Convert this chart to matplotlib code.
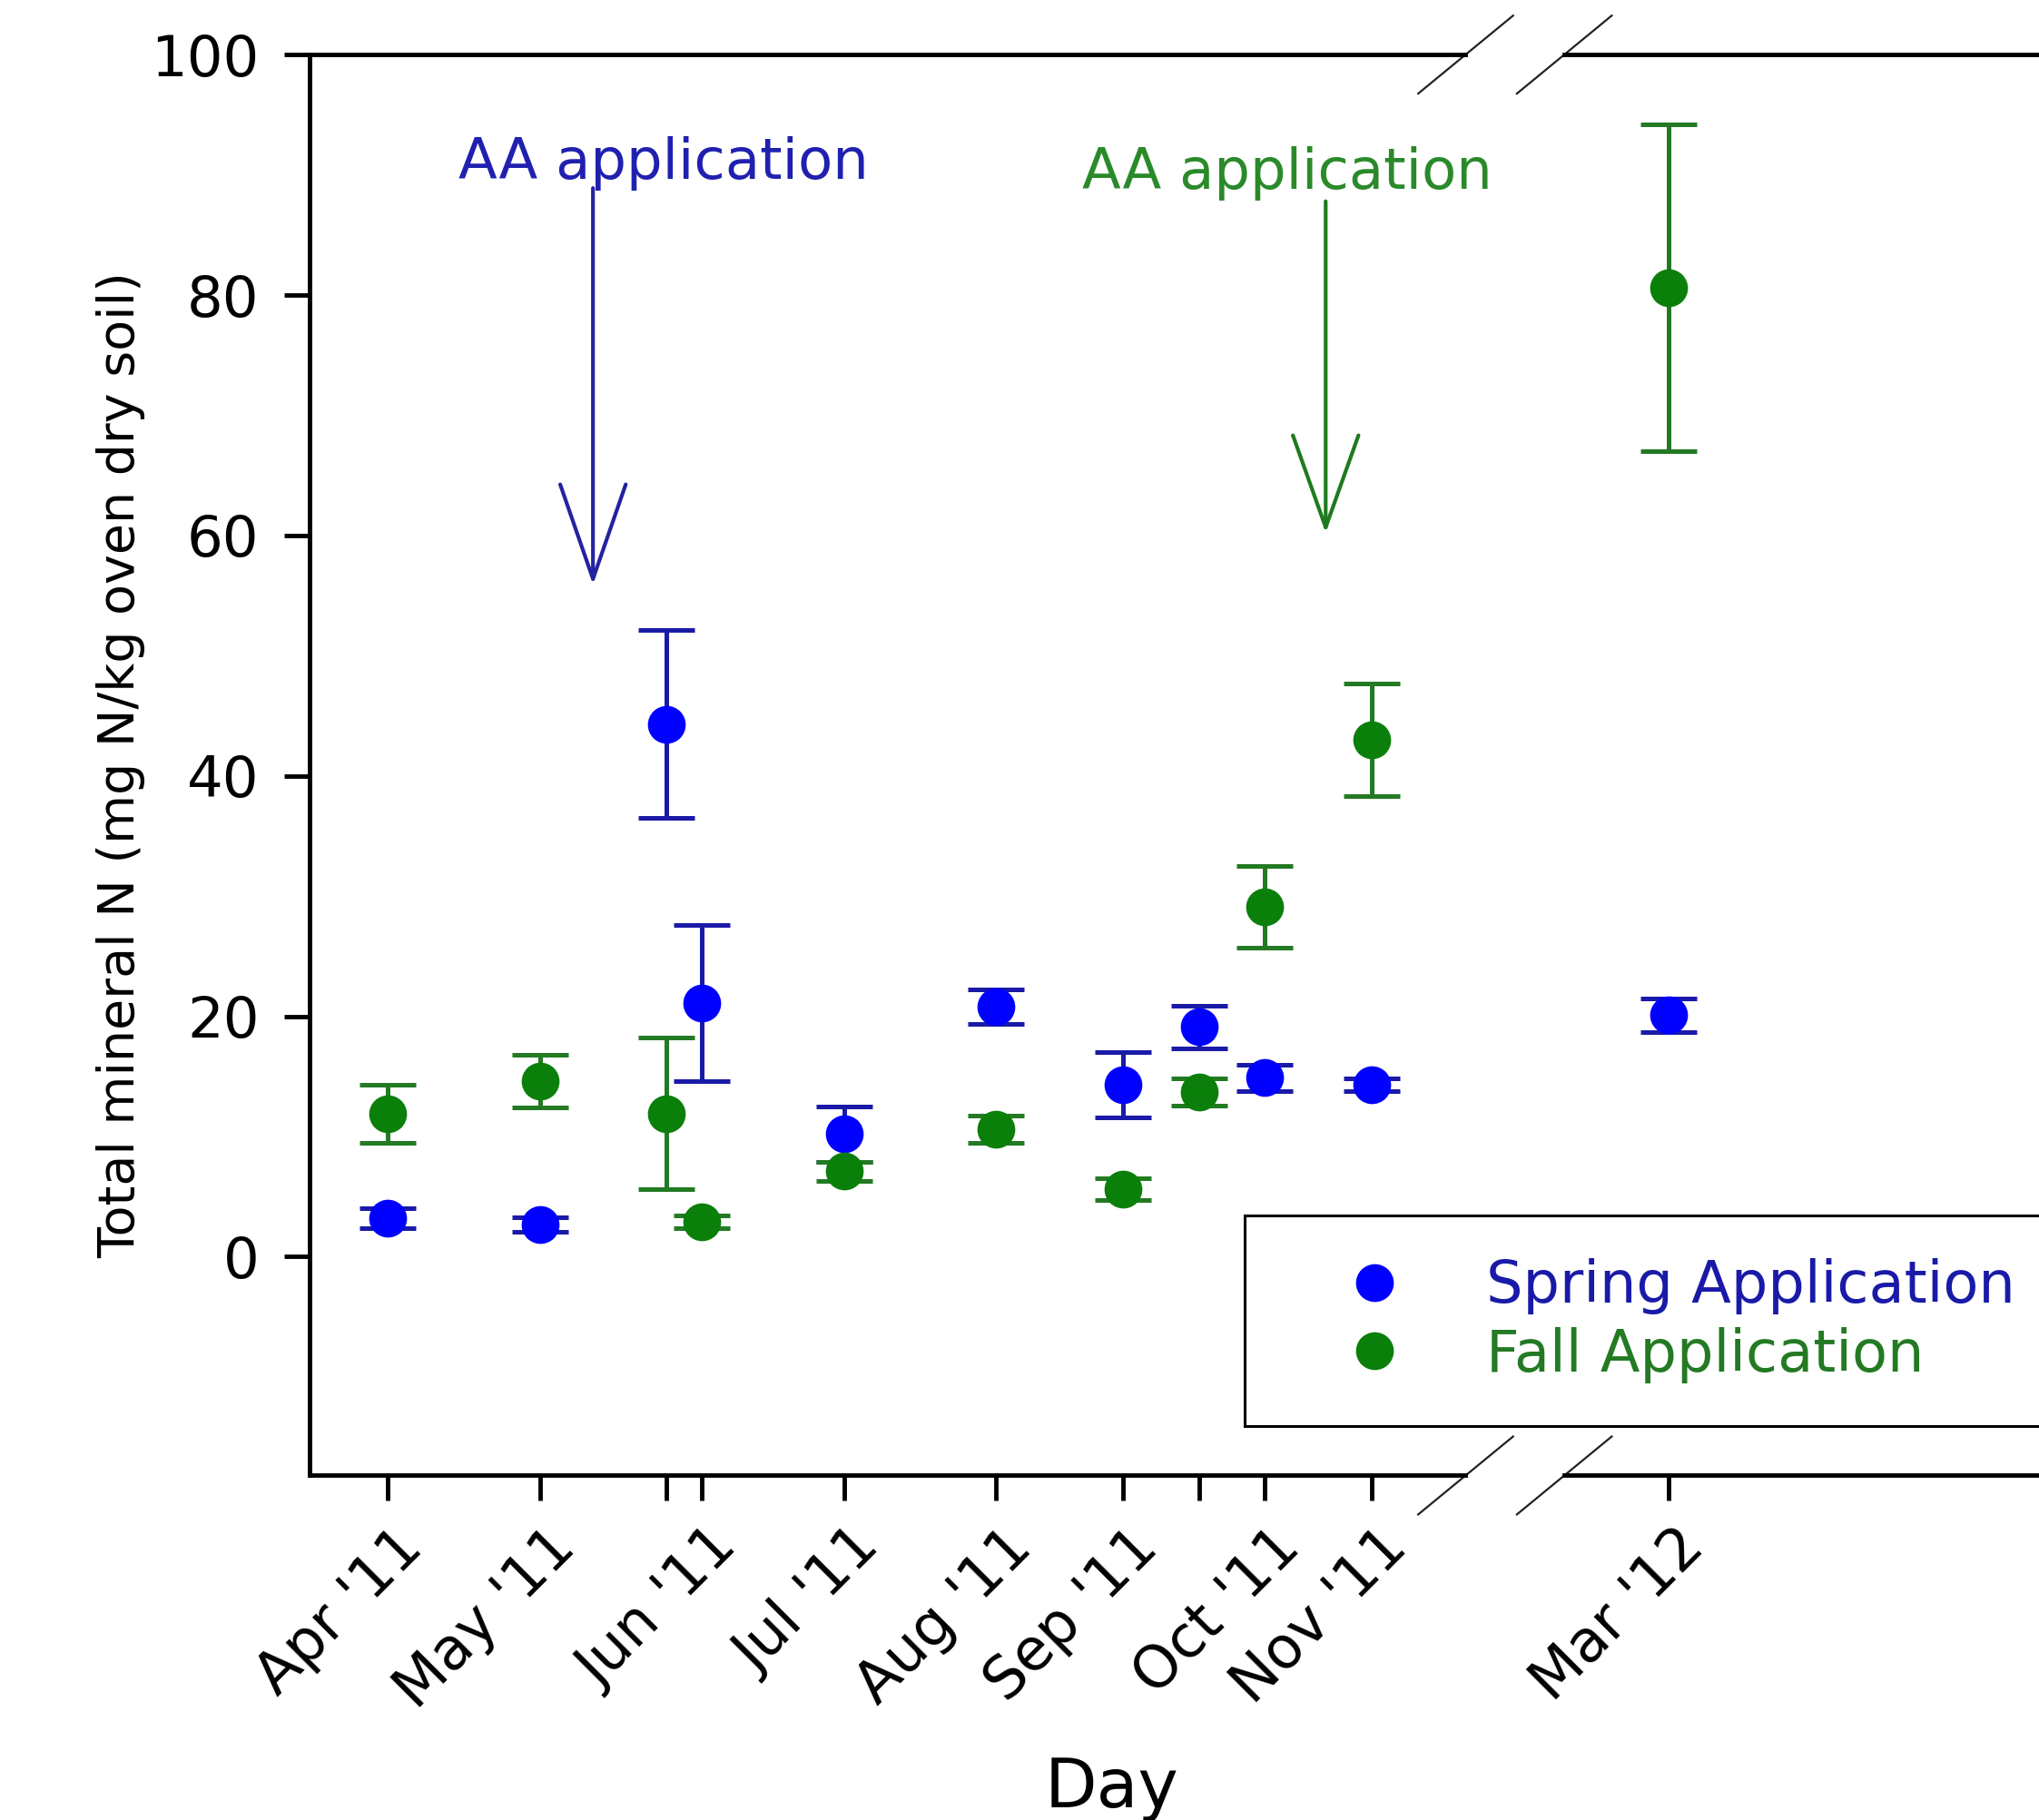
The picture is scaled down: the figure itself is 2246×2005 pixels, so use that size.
import matplotlib
matplotlib.use("Agg")
import matplotlib.pyplot as plt
import matplotlib.transforms as mtransforms

# Sampling days (days since 1 Apr 2011) and tick labels
days_2011 = [0, 30, 55, 62, 90, 120, 145, 160, 173, 194]
labels_2011 = ["Apr '11", "May '11", "", "Jun '11", "Jul '11", "Aug '11",
               "Sep '11", "", "Oct '11", "Nov '11"]
days_2012 = [345]
labels_2012 = ["Mar '12"]

# Total mineral N (mean and standard error), 2011 dates then Mar 2012
spring_mean = [3.2, 2.7, 44.3, 21.1, 10.2, 20.8, 14.3, 19.1, 14.9, 14.3, 20.1]
spring_se = [0.8, 0.6, 7.8, 6.5, 2.3, 1.4, 2.7, 1.8, 1.1, 0.5, 1.4]
fall_mean = [11.9, 14.6, 11.9, 2.9, 7.1, 10.6, 5.6, 13.7, 29.1, 43.0, 80.6]
fall_se = [2.4, 2.2, 6.3, 0.5, 0.8, 1.1, 0.9, 1.1, 3.4, 4.7, 13.6]

# Application dates
spring_app = 40.5
fall_app = 185

blue = '#0000ff'
blue_dark = '#1a1aa8'
green = '#0a7f0a'
green_dark = '#237a23'

plt.rcParams['font.family'] = ['DejaVu Sans']

fig = plt.figure(figsize=(22.46, 20.05), dpi=100)
ax1 = fig.add_axes([0.1518, 0.1893, 0.567, 0.7807])
ax2 = fig.add_axes([0.7672, 0.1893, 0.3328, 0.7807])
ax2.patch.set_visible(False)

n1 = len(days_2011)
series = [
    ('Spring Application', spring_mean, spring_se, blue, blue_dark),
    ('Fall Application', fall_mean, fall_se, green, green_dark),
]
handles = []
for name, mean, se, col, ecol in series:
    for ax, xs, sl in [(ax1, days_2011, slice(0, n1)), (ax2, days_2012, slice(n1, None))]:
        cont = ax.errorbar(xs, mean[sl], yerr=se[sl], fmt='o', ms=29, mfc=col, mec=col,
                           ecolor=ecol, elinewidth=3.6, capsize=22, capthick=3.6)
        if ax is ax1:
            cont[0].set_label(name)
            handles.append(cont[0])

for ax in (ax1, ax2):
    ax.set_ylim(-18.2, 100)
    for s in ax.spines.values():
        s.set_linewidth(3.5)
    ax.tick_params(axis='both', direction='out', length=20, width=3.5,
                   labelsize=45, top=False, right=False)

ax1.set_xlim(-15.4, 212.6)
ax2.set_xlim(324.5, 458.3)
ax1.spines['right'].set_visible(False)
ax2.spines['left'].set_visible(False)
ax2.spines['right'].set_visible(False)
ax2.tick_params(left=False, labelleft=False)

ax1.set_yticks([0, 20, 40, 60, 80, 100])
ax1.tick_params(axis='y', pad=20)

ax1.set_xticks(days_2011)
ax1.set_xticklabels(labels_2011, rotation=45, ha='right', va='top',
                    rotation_mode='anchor', fontsize=46)
ax2.set_xticks(days_2012)
ax2.set_xticklabels(labels_2012, rotation=45, ha='right', va='top',
                    rotation_mode='anchor', fontsize=46)
shift = mtransforms.ScaledTranslation(5 / 72, 0, fig.dpi_scale_trans)
for ax in (ax1, ax2):
    ax.tick_params(axis='x', pad=14)
    for lab in ax.get_xticklabels():
        lab.set_transform(lab.get_transform() + shift)

ax1.set_ylabel('Total mineral N (mg N/kg oven dry soil)', fontsize=40)
ax1.yaxis.set_label_coords(-0.1417, 0.5)
ax1.set_xlabel('Day', fontsize=54)
ax1.xaxis.set_label_coords(0.694, -0.197)

# axis break marks
dx1, dy = 36.5 / 889, 30 / 1093
dx2 = 36.5 / 522
for y in (0, 1):
    ax1.plot([1 - dx1, 1 + dx1], [y - dy, y + dy], transform=ax1.transAxes,
             color='#222222', lw=1.6, clip_on=False)
    ax2.plot([-dx2, dx2], [y - dy, y + dy], transform=ax2.transAxes,
             color='#222222', lw=1.6, clip_on=False)

# application arrows
ax1.annotate('', xy=(spring_app, 55.9), xytext=(spring_app, 88.9),
             arrowprops=dict(arrowstyle='->, head_length=7.5, head_width=2.6',
                             mutation_scale=10, lw=3, color='#2323a0',
                             shrinkA=0, shrinkB=0))
ax1.text(54.4, 89.7, 'AA application', color='#2020b0', fontsize=45,
         ha='center', va='baseline')
ax1.annotate('', xy=(fall_app, 60.2), xytext=(fall_app, 87.8),
             arrowprops=dict(arrowstyle='->, head_length=7.3, head_width=2.6',
                             mutation_scale=10, lw=3, color='#1f7a1f',
                             shrinkA=0, shrinkB=0))
ax1.text(177.4, 88.8, 'AA application', color='#2a8a2a', fontsize=45,
         ha='center', va='baseline')

leg = fig.legend(handles=handles, loc='upper left',
                 bbox_to_anchor=(0.6103, 0.0, 0.6, 0.3321),
                 mode='expand', numpoints=1,
                 fontsize=46, frameon=True, fancybox=False, framealpha=1,
                 edgecolor='black', borderpad=0.74, labelspacing=0.21,
                 handlelength=3.0, handletextpad=0.43, borderaxespad=0)
leg.get_frame().set_linewidth(2.2)
for txt, col in zip(leg.get_texts(), ['#1a1aa8', '#237a23']):
    txt.set_color(col)

fig.savefig('out.png', dpi=100)
